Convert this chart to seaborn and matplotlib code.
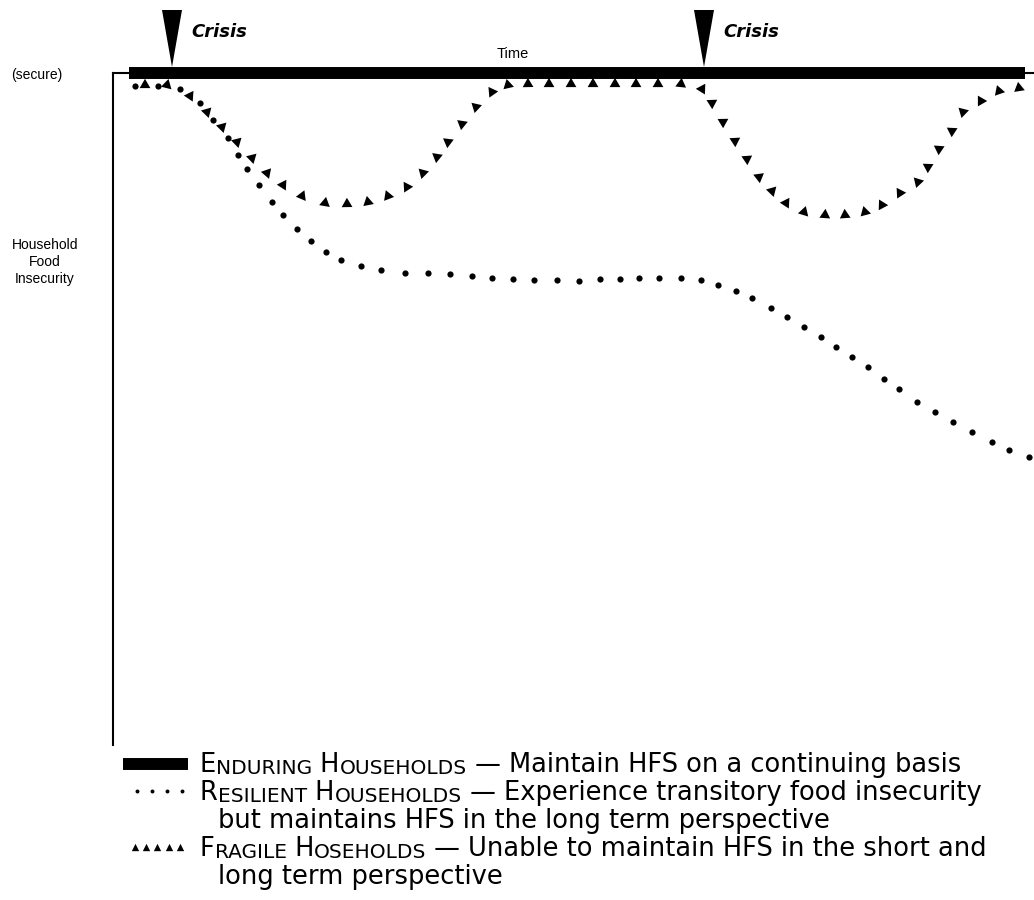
import numpy as np
import pandas as pd
import matplotlib
matplotlib.use("Agg")
import matplotlib.pyplot as plt
import seaborn as sns

# values (time units ~ px from the axis, insecurity 0 = secure)
crisis_time = [59, 591]

enduring_time = [16, 912]
enduring_insec = [0, 0]

resilient_time = [22, 45, 67, 87, 100, 115, 125, 134, 146, 159, 170, 184, 198, 213, 228,
                  248, 268, 292, 315, 337, 359, 379, 400, 421, 444, 466, 487, 507, 526, 546,
                  568, 588, 605, 623, 639, 658, 674, 691, 708, 723, 739, 755, 771, 786, 804,
                  822, 840, 859, 879, 896, 916]
resilient_insec = [13, 13, 16, 30, 47, 65, 82, 96, 112, 129, 142, 156, 168, 179, 187,
                   193, 197, 200, 200, 201, 203, 205, 206, 207, 207, 208, 206, 206, 205, 205,
                   205, 207, 212, 218, 225, 235, 244, 254, 264, 274, 284, 294, 306, 316, 329,
                   339, 349, 359, 369, 377, 384]

fragile_time = [32, 54, 77, 94, 109, 124, 139, 154, 170, 189, 212, 234, 255, 275, 294,
                310, 324, 335, 349, 363, 379, 395, 415, 436, 458, 480, 502, 523, 545, 568,
                589, 599, 610, 622, 634, 646, 659, 673, 691, 712, 732, 752, 769, 787, 805,
                815, 826, 839, 850, 868, 886, 906]
fragile_insec = [12, 12, 23, 39, 54, 69, 85, 100, 112, 123, 130, 131, 129, 123, 114,
                 100, 84, 69, 51, 34, 19, 12, 11, 11, 11, 11, 11, 11, 11, 11,
                 16, 30, 49, 68, 86, 104, 118, 130, 139, 142, 142, 139, 132, 120, 109,
                 94, 76, 58, 39, 28, 18, 15]

sns.set_style("white")
plt.rcParams["font.family"] = ["Liberation Sans", "DejaVu Sans"]
plt.rcParams["text.color"] = "black"

fig = plt.figure(figsize=(10.34, 9), dpi=100)

# overlay in pixel units for the legend block
lax = fig.add_axes([0, 0, 1, 1], zorder=-1)
lax.set_xlim(0, 1034)
lax.set_ylim(900, 0)
lax.axis("off")

ax = fig.add_axes([113 / 1034, 155 / 900, 921 / 1034, 672 / 900])
ax.set_xlim(0, 921)
ax.set_ylim(672, 0)
ax.patch.set_alpha(0)
for s in ["right", "bottom"]:
    ax.spines[s].set_visible(False)
for s in ["left", "top"]:
    ax.spines[s].set_linewidth(1.5)
    ax.spines[s].set_color("black")
ax.set_xticks([])
ax.set_yticks([])

# enduring households: thick line on the secure level
ax.plot(enduring_time, enduring_insec, color="black", lw=8.6,
        solid_capstyle="butt", clip_on=False, zorder=3)

# resilient households: dots
res = pd.DataFrame({"time": resilient_time, "insecurity": resilient_insec})
sns.scatterplot(data=res, x="time", y="insecurity", color="black", s=20,
                linewidth=0, ax=ax, clip_on=False, legend=False)

# fragile households: triangles turned along the curve
frag = pd.DataFrame({"time": fragile_time, "insecurity": fragile_insec})
dt = np.gradient(frag["time"].to_numpy(float))
di = np.gradient(frag["insecurity"].to_numpy(float))
frag["angle"] = np.round(np.degrees(np.arctan2(-di, dt))).astype(int)
mk = {a: (3, 0, a) for a in frag["angle"].unique()}
sns.scatterplot(data=frag, x="time", y="insecurity", style="angle", markers=mk,
                color="black", s=80, linewidth=0, ax=ax, clip_on=False, legend=False)

# crisis wedges + labels
for c in crisis_time:
    ax.fill([c - 10, c + 10, c], [-63, -63, -6], color="black", clip_on=False, lw=0)
    ax.text(c + 19, -41, "Crisis", fontsize=13, style="italic", fontweight="semibold",
            family="DejaVu Sans", va="center", ha="left")

ax.text(400, -19, "Time", fontsize=10.5, ha="center", va="center")
ax.text(-76, 2, "(secure)", fontsize=10, ha="center", va="center")
ax.text(-68, 189, "Household\nFood\nInsecurity", fontsize=10, ha="center",
        va="center", linespacing=1.3)

# legend block
lax.plot([123, 188], [764, 764], color="black", lw=8.6, solid_capstyle="butt")
lax.scatter([137, 152, 167, 182], [791] * 4, s=8, color="black", lw=0)
lax.scatter([135, 146, 157, 169, 180], [847] * 5, s=28, marker="^", color="black", lw=0)

BIG, SMALL = 18.5, 14.5
LFONT = "DejaVu Sans"


def caps_line(x, y, parts):
    t = lax.text(x, y, parts[0][0], fontsize=parts[0][1], family=LFONT,
                 va="bottom", ha="left")
    for txt, size in parts[1:]:
        t = lax.annotate(txt, xy=(1, 0), xycoords=t, fontsize=size, family=LFONT,
                         va="bottom", ha="left")


caps_line(200, 778, [("E", BIG), ("NDURING", SMALL), (" H", BIG), ("OUSEHOLDS", SMALL),
                     (" \u2014 Maintain HFS on a continuing basis", BIG)])
caps_line(200, 806, [("R", BIG), ("ESILIENT", SMALL), (" H", BIG), ("OUSEHOLDS", SMALL),
                     (" \u2014 Experience transitory food insecurity", BIG)])
lax.text(218, 834, "but maintains HFS in the long term perspective", fontsize=BIG,
         family=LFONT, va="bottom", ha="left")
caps_line(200, 862, [("F", BIG), ("RAGILE", SMALL), (" H", BIG), ("OSEHOLDS", SMALL),
                     (" \u2014 Unable to maintain HFS in the short and", BIG)])
lax.text(218, 890, "long term perspective", fontsize=BIG, family=LFONT,
         va="bottom", ha="left")

fig.savefig("out.png", dpi=100)
